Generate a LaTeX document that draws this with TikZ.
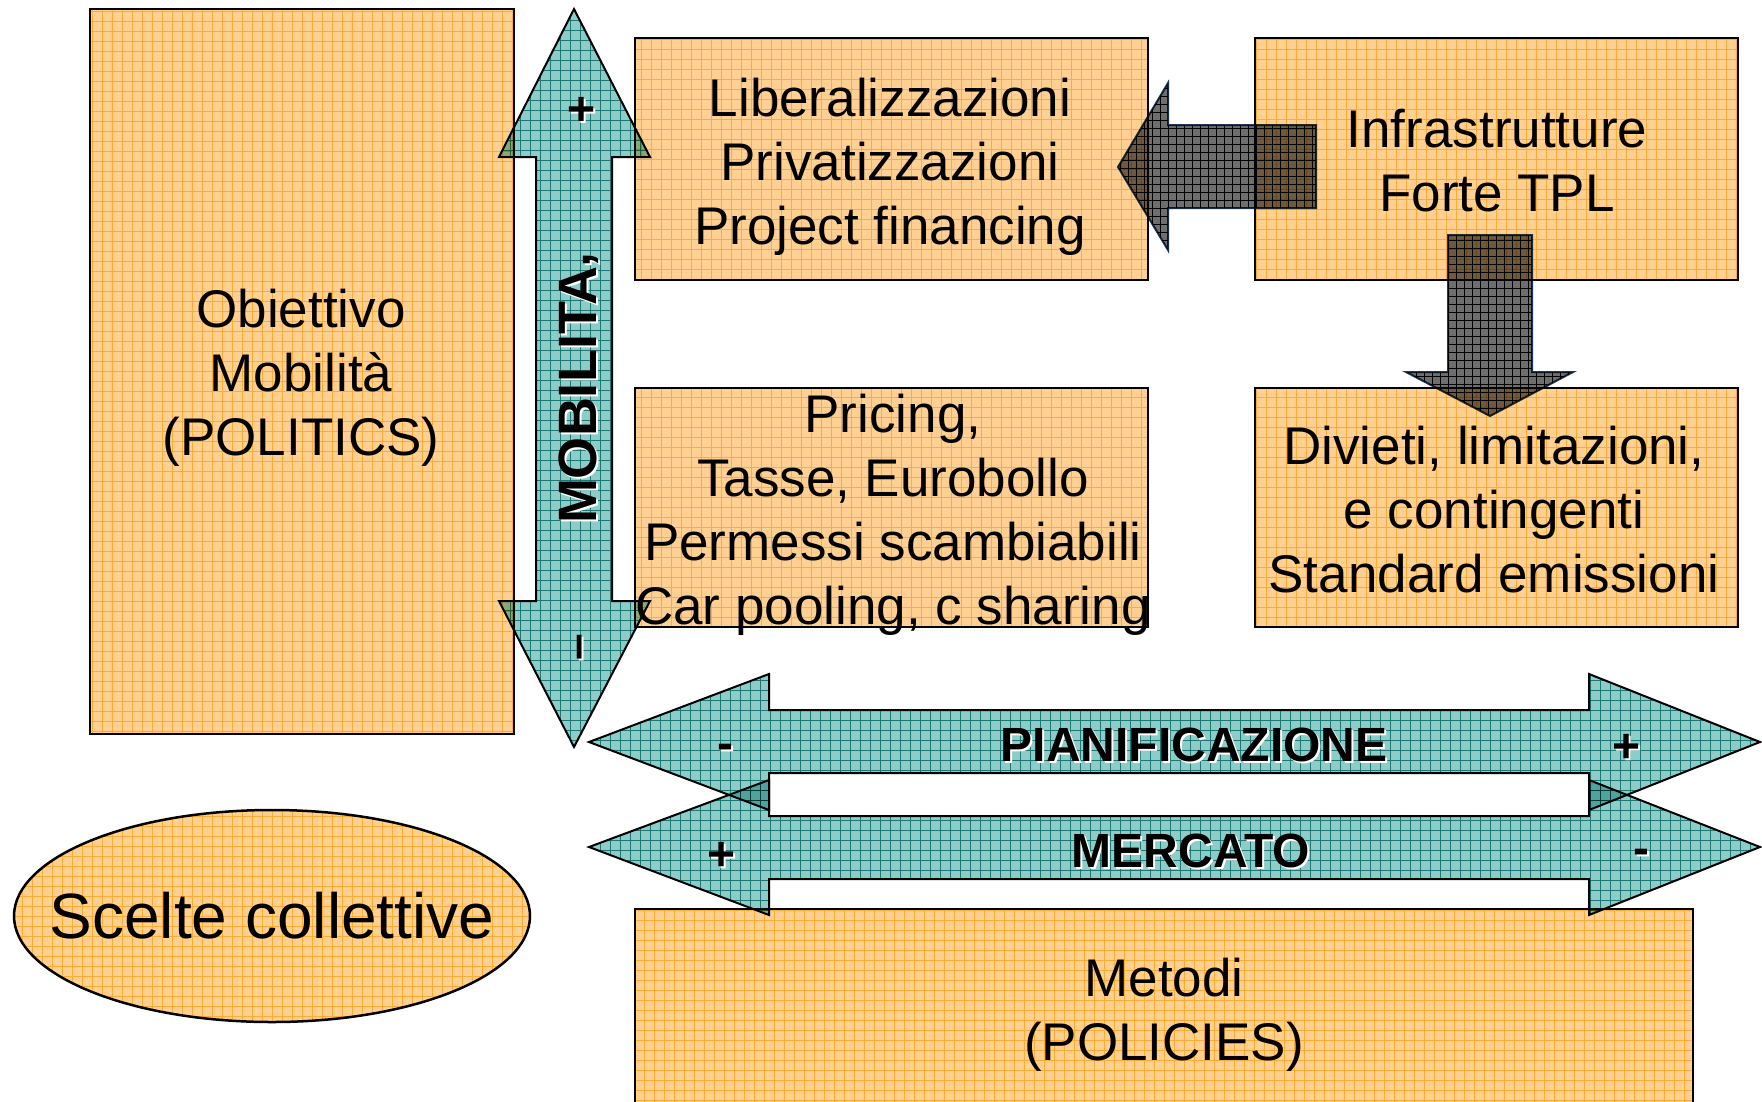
\documentclass[tikz,border=0pt]{standalone}
\usepackage{fontspec}
\setmainfont{Liberation Sans}
\usetikzlibrary{shapes.geometric}
\definecolor{boxfill}{RGB}{255,208,145}
\definecolor{boxgrid}{RGB}{255,172,50}
\definecolor{tealfill}{RGB}{142,204,200}
\definecolor{tealgrid}{RGB}{50,150,148}
\definecolor{darkfill}{RGB}{110,110,110}
\definecolor{darkline}{RGB}{30,55,95}
\newcommand\bxfont{\fontsize{53}{64}\selectfont}
\newcommand\lblfont{\fontsize{48}{58}\selectfont\bfseries}
\tikzset{
  obox/.style={draw=black, line width=2.5pt, fill=boxfill, inner sep=0pt,
    path picture={\draw[boxgrid, line width=0.9pt, step=10pt]
      (path picture bounding box.south west) grid (path picture bounding box.north east);}},
  txt/.style={inner sep=0pt, align=center, font=\bxfont},
  tealarrow/.style={draw=black, line width=2pt, fill=tealfill,
    path picture={\draw[tealgrid, line width=0.8pt, step=10pt]
      (path picture bounding box.south west) grid (path picture bounding box.north east);}},
  darkarrow/.style={draw=darkline, line width=2pt, fill=darkfill,
    path picture={\draw[black, line width=0.8pt, step=8pt]
      (path picture bounding box.south west) grid (path picture bounding box.north east);}},
  lbl/.style={inner sep=0pt, anchor=base, font=\lblfont},
  shd/.style={lbl, text=white},
}
\begin{document}
\begin{tikzpicture}[x=1pt,y=1pt]
\useasboundingbox (0,0) rectangle (1762,-1101);
\clip (0,0) rectangle (1762,-1101);
\fill[white] (0,0) rectangle (1762,-1101);

% boxes
\node[obox, minimum width=424pt, minimum height=725pt] (obiettivo) at (302,-371.5) {};
\node[obox, minimum width=513pt, minimum height=242pt] (liberal) at (891.5,-159) {};
\node[obox, minimum width=483pt, minimum height=242pt] (infra) at (1496.5,-159) {};
\node[obox, minimum width=513pt, minimum height=239pt] (pricing) at (891.5,-507.5) {};
\node[obox, minimum width=483pt, minimum height=239pt] (divieti) at (1496.5,-507.5) {};
\node[obox, minimum width=1058pt, minimum height=202pt] (metodi) at (1164,-1010) {};
\node[obox, ellipse, minimum width=516pt, minimum height=212pt] (scelte) at (272,-916) {};

% box texts
\node[txt] (obiettivoT) at (301,-377.5) {Obiettivo\\Mobilità\\(POLITICS)};
\node[txt] (liberalT) at (890,-166.5) {Liberalizzazioni\\Privatizzazioni\\Project financing};
\node[txt] (infraT) at (1497,-161) {Infrastrutture\\Forte TPL};
\node[txt] (pricingT) at (893,-514.5) {Pricing,\\Tasse, Eurobollo\\Permessi scambiabili\\Car pooling, c sharing};
\node[txt] (divietiT) at (1494,-510) {Divieti, limitazioni,\\e contingenti\\Standard emissioni};
\node[txt] (metodiT) at (1164,-1014.5) {Metodi\\(POLICIES)};
\node[txt, font=\fontsize{64}{76}\selectfont] (scelteT) at (272,-916) {Scelte collettive};

% arrows
\begin{scope}[blend mode=multiply]
\path[tealarrow] (574,-9) -- (650,-157) -- (612,-157) -- (612,-601) -- (650,-601)
  -- (574,-747) -- (499,-601) -- (536,-601) -- (536,-157) -- (499,-157) -- cycle;
\path[tealarrow] (589,-742) -- (769,-674) -- (769,-710) -- (1589,-710) -- (1589,-674)
  -- (1760,-742) -- (1589,-810) -- (1589,-773) -- (769,-773) -- (769,-810) -- cycle;
\path[tealarrow] (589,-847) -- (769,-780) -- (769,-816) -- (1589,-816) -- (1589,-780)
  -- (1760,-847) -- (1589,-915) -- (1589,-879) -- (769,-879) -- (769,-915) -- cycle;
\path[darkarrow] (1118,-167) -- (1168,-83) -- (1168,-125) -- (1316,-125) -- (1316,-208)
  -- (1168,-208) -- (1168,-250) -- cycle;
\path[darkarrow] (1448,-235) -- (1532,-235) -- (1532,-372) -- (1573,-372) -- (1490,-416)
  -- (1406,-372) -- (1448,-372) -- cycle;
\end{scope}

% arrow labels
\node[shd, rotate=90, font=\fontsize{54}{64}\selectfont\bfseries] (mobS) at (598,-390) {MOBILITA\raisebox{-0.45em}{’}};
\node[lbl, rotate=90, font=\fontsize{54}{64}\selectfont\bfseries] (mob) at (596,-388) {MOBILITA\raisebox{-0.45em}{’}};
\node[shd, rotate=90] (vplusS) at (599,-111) {+};
\node[lbl, rotate=90] (vplus) at (597,-109) {+};
\node[shd, rotate=90] (vminS) at (594,-649) {–};
\node[lbl, rotate=90] (vmin) at (592,-647) {–};

\node[shd] (pianS) at (1196,-763) {PIANIFICAZIONE};
\node[lbl] (pian) at (1194,-761) {PIANIFICAZIONE};
\node[shd] (p1S) at (727,-761) {-};
\node[lbl] (p1) at (725,-759) {-};
\node[shd] (p2S) at (1628,-764) {+};
\node[lbl] (p2) at (1626,-762) {+};

\node[shd] (mercS) at (1193,-869) {MERCATO};
\node[lbl] (merc) at (1191,-867) {MERCATO};
\node[shd] (m1S) at (724,-872) {+};
\node[lbl] (m1) at (722,-870) {+};
\node[shd] (m2S) at (1643,-866) {-};
\node[lbl] (m2) at (1641,-864) {-};
\end{tikzpicture}
\end{document}
